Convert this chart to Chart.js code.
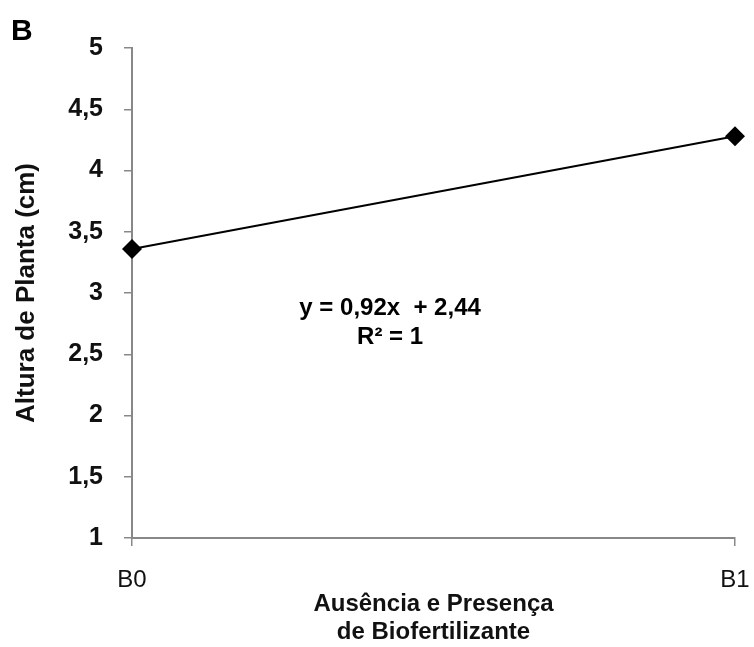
<!DOCTYPE html>
<html>
<head>
<meta charset="utf-8">
<script src="https://cdn.jsdelivr.net/npm/chart.js@4.4.1/dist/chart.umd.min.js"></script>
<style>
html,body{margin:0;padding:0;background:#fff;}
#wrap{width:754px;height:647px;position:relative;}
</style>
</head>
<body>
<div id="wrap"><canvas id="c" width="754" height="647"></canvas></div>
<script>
const categories = ["B0", "B1"];
const alturaValues = [3.36, 4.28];
const yTickValues = [1, 1.5, 2, 2.5, 3, 3.5, 4, 4.5, 5];
const equationLines = ["y = 0,92x  + 2,44", "R² = 1"];
const panelLabel = "B";
const yTitle = "Altura de Planta (cm)";
const xTitle = ["Ausência e Presença", "de Biofertilizante"];

const FONT = '"Liberation Sans", Arial, sans-serif';

const annot = {
  id: 'annot',
  afterDraw(chart) {
    const ctx = chart.ctx;
    const ca = chart.chartArea;
    ctx.save();
    ctx.fillStyle = '#000';
    ctx.font = 'bold 30px ' + FONT;
    ctx.textAlign = 'left';
    ctx.textBaseline = 'middle';
    ctx.fillText(panelLabel, 11, 32);
    ctx.font = 'bold 24px ' + FONT;
    ctx.textAlign = 'center';
    const x = ca.left + (ca.right - ca.left) * 0.428;
    const ys = chart.scales.y;
    const y0 = ys.getPixelForValue(2.9);
    ctx.fillText(equationLines[0], x, y0 + 3);
    ctx.fillText(equationLines[1], x, y0 + 32);
    ctx.restore();
  }
};

new Chart(document.getElementById('c'), {
  type: 'line',
  data: {
    labels: categories,
    datasets: [{
      data: alturaValues,
      borderColor: '#000',
      backgroundColor: '#000',
      borderWidth: 2,
      pointStyle: 'rectRot',
      pointRadius: 10,
      pointBorderWidth: 0,
      pointBackgroundColor: '#000',
      tension: 0
    }]
  },
  options: {
    responsive: false,
    animation: false,
    devicePixelRatio: 1,
    layout: { padding: { left: 0, right: 19, top: 48, bottom: 0 } },
    plugins: { legend: { display: false }, tooltip: { enabled: false } },
    scales: {
      x: {
        type: 'category',
        offset: false,
        grid: { display: true, drawOnChartArea: false, drawTicks: true, tickLength: 8, color: '#888', lineWidth: 1.5 },
        border: { display: true, color: '#888', width: 2 },
        ticks: { color: '#111', font: { family: FONT, size: 24 }, padding: 20, maxRotation: 0, autoSkip: false },
        title: { display: true, text: xTitle, color: '#111', font: { family: FONT, size: 24, weight: 'bold', lineHeight: 1.15 }, padding: { top: 0, bottom: 1 } },
        afterFit(s) { s.height = 109; s.paddingLeft = 0; s.paddingRight = 0; }
      },
      y: {
        min: 1, max: 5,
        afterBuildTicks(s) { s.ticks = yTickValues.map(v => ({ value: v })); },
        grid: { display: true, drawOnChartArea: false, drawTicks: true, tickLength: 8, color: '#888', lineWidth: 1.5 },
        border: { display: true, color: '#888', width: 2 },
        ticks: {
          color: '#111',
          font: { family: FONT, size: 25, weight: 'bold' },
          padding: 21,
          callback: v => String(v).replace('.', ',')
        },
        title: { display: true, text: yTitle, color: '#111', font: { family: FONT, size: 26, weight: 'bold' }, padding: { top: 11, bottom: 0 } },
        afterFit(s) { s.width = 132; }
      }
    }
  },
  plugins: [annot]
});
</script>
</body>
</html>
